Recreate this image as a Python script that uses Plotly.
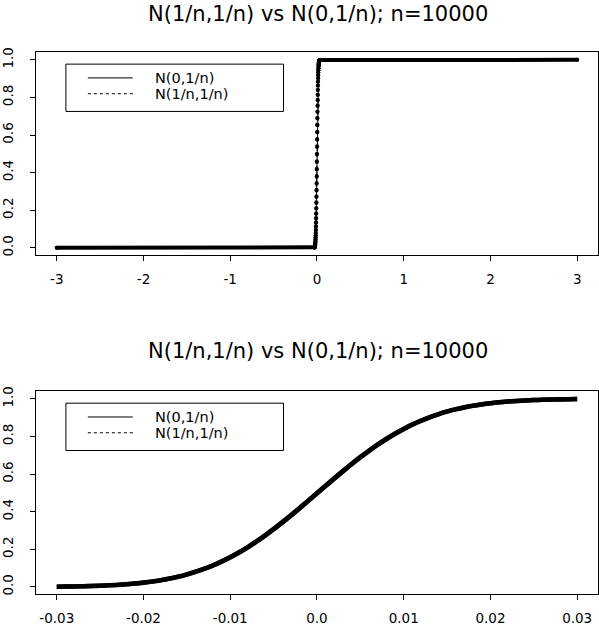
import plotly.graph_objects as go

# ---------------- data ----------------
x_grid = [-0.030, -0.029, -0.028, -0.027, -0.026, -0.025, -0.024, -0.023, -0.022, -0.021,
          -0.020, -0.019, -0.018, -0.017, -0.016, -0.015, -0.014, -0.013, -0.012, -0.011,
          -0.010, -0.009, -0.008, -0.007, -0.006, -0.005, -0.004, -0.003, -0.002, -0.001,
          0.000, 0.001, 0.002, 0.003, 0.004, 0.005, 0.006, 0.007, 0.008, 0.009,
          0.010, 0.011, 0.012, 0.013, 0.014, 0.015, 0.016, 0.017, 0.018, 0.019,
          0.020, 0.021, 0.022, 0.023, 0.024, 0.025, 0.026, 0.027, 0.028, 0.029, 0.030]

# N(0,1/n) cumulative probabilities
cdf_n0 = [0.0013, 0.0019, 0.0026, 0.0035, 0.0047, 0.0062, 0.0082, 0.0107, 0.0139, 0.0179,
          0.0228, 0.0287, 0.0359, 0.0446, 0.0548, 0.0668, 0.0808, 0.0968, 0.1151, 0.1357,
          0.1587, 0.1841, 0.2119, 0.2420, 0.2743, 0.3085, 0.3446, 0.3821, 0.4207, 0.4602,
          0.5000, 0.5398, 0.5793, 0.6179, 0.6554, 0.6915, 0.7257, 0.7580, 0.7881, 0.8159,
          0.8413, 0.8643, 0.8849, 0.9032, 0.9192, 0.9332, 0.9452, 0.9554, 0.9641, 0.9713,
          0.9772, 0.9821, 0.9861, 0.9893, 0.9918, 0.9938, 0.9953, 0.9965, 0.9974, 0.9981, 0.9987]

# N(1/n,1/n) cumulative probabilities
cdf_n1 = [0.0013, 0.0018, 0.0025, 0.0034, 0.0045, 0.0060, 0.0080, 0.0104, 0.0135, 0.0175,
          0.0223, 0.0280, 0.0351, 0.0437, 0.0537, 0.0655, 0.0793, 0.0951, 0.1132, 0.1335,
          0.1563, 0.1814, 0.2090, 0.2389, 0.2710, 0.3050, 0.3409, 0.3783, 0.4168, 0.4562,
          0.4960, 0.5358, 0.5754, 0.6141, 0.6517, 0.6880, 0.7224, 0.7549, 0.7852, 0.8132,
          0.8389, 0.8621, 0.8830, 0.9015, 0.9177, 0.9319, 0.9441, 0.9545, 0.9633, 0.9706,
          0.9767, 0.9817, 0.9857, 0.9890, 0.9916, 0.9936, 0.9952, 0.9964, 0.9973, 0.9980, 0.9987]

# wide view: flat ends of the curves
wide_x_ends = [-3.0, 3.0]
wide_y_ends = [0.0, 1.0]

title_text = "N(1/n,1/n) vs N(0,1/n); n=10000"
legend_labels = ["N(0,1/n)", "N(1/n,1/n)"]

top_xticks = [-3, -2, -1, 0, 1, 2, 3]
top_xticktext = ["-3", "-2", "-1", "0", "1", "2", "3"]
bot_xticks = [-0.03, -0.02, -0.01, 0.0, 0.01, 0.02, 0.03]
bot_xticktext = ["-0.03", "-0.02", "-0.01", "0.0", "0.01", "0.02", "0.03"]
yticks = [0.0, 0.2, 0.4, 0.6, 0.8, 1.0]
yticktext = ["0.0", "0.2", "0.4", "0.6", "0.8", "1.0"]

# ---------------- figure ----------------
W, H = 599, 626
FONT = "DejaVu Sans"


def px(xp):
    return xp / W


def py(yp):
    return 1 - yp / H


top_x = [wide_x_ends[0]] + x_grid + [wide_x_ends[1]]
top_y0 = [wide_y_ends[0]] + cdf_n0 + [wide_y_ends[1]]
top_y1 = [wide_y_ends[0]] + cdf_n1 + [wide_y_ends[1]]

# thick flat parts (where the curve sits at 0 or 1)
flat_x, flat_y = [], []
left = [(x, y) for x, y in zip(top_x, top_y0) if y < 0.003 and x < 0]
right = [(x, y) for x, y in zip(top_x, top_y0) if y > 0.997 and x > 0]
for seg in (left, right):
    flat_x += [p[0] for p in seg] + [None]
    flat_y += [p[1] for p in seg] + [None]

fig = go.Figure()

# ----- top panel -----
fig.add_trace(go.Scatter(x=flat_x, y=flat_y, mode="lines", xaxis="x", yaxis="y",
                         line=dict(color="black", width=4), showlegend=False,
                         hoverinfo="skip"))
fig.add_trace(go.Scatter(x=top_x, y=top_y0, mode="lines+markers", xaxis="x", yaxis="y",
                         line=dict(color="black", width=1),
                         marker=dict(color="black", size=4), showlegend=False))
fig.add_trace(go.Scatter(x=top_x, y=top_y1, mode="lines+markers", xaxis="x", yaxis="y",
                         line=dict(color="black", width=1, dash="dot"),
                         marker=dict(color="black", size=4), showlegend=False))

# ----- bottom panel -----
fig.add_trace(go.Scatter(x=x_grid, y=cdf_n0, mode="lines", xaxis="x2", yaxis="y2",
                         line=dict(color="black", width=4.5, shape="spline"), showlegend=False))
fig.add_trace(go.Scatter(x=x_grid, y=cdf_n1, mode="lines", xaxis="x2", yaxis="y2",
                         line=dict(color="black", width=4.5, shape="spline"), showlegend=False))

common_axis = dict(showline=True, linecolor="black", linewidth=1, mirror=True,
                   ticks="outside", ticklen=5, tickwidth=1, tickcolor="black",
                   showgrid=False, zeroline=False,
                   tickfont=dict(family=FONT, size=13.5, color="black"))

xdom = [px(35), px(598)]
fig.update_layout(
    width=W, height=H,
    margin=dict(l=0, r=0, t=0, b=0),
    paper_bgcolor="white", plot_bgcolor="white",
    showlegend=False,
    xaxis=dict(domain=xdom, range=[-3.24, 3.24], tickmode="array",
               tickvals=top_xticks, ticktext=top_xticktext, anchor="y",
               ticklabelstandoff=6, **common_axis),
    yaxis=dict(domain=[py(254), py(48)], range=[-0.04, 1.04], tickmode="array",
               tickvals=yticks, ticktext=yticktext, tickangle=-90, anchor="x",
               ticklabelstandoff=12, **common_axis),
    xaxis2=dict(domain=xdom, range=[-0.0324, 0.0324], tickmode="array",
                tickvals=bot_xticks, ticktext=bot_xticktext, anchor="y2",
                ticklabelstandoff=6, **common_axis),
    yaxis2=dict(domain=[py(598), py(392)], range=[-0.04, 1.04], tickmode="array",
                tickvals=yticks, ticktext=yticktext, tickangle=-90, anchor="x2",
                ticklabelstandoff=12, **common_axis),
)

shapes = []
annotations = []
for frame_top, title_y in ((48, 9.5), (392, 351.5)):
    # title
    annotations.append(dict(text=title_text, x=px(318), y=py(title_y), xref="paper",
                            yref="paper", xanchor="center", yanchor="middle",
                            showarrow=False, font=dict(family=FONT, size=21, color="black")))
    # legend box
    bt = frame_top + 12
    shapes.append(dict(type="rect", xref="paper", yref="paper", x0=px(65), x1=px(283),
                       y0=py(bt + 48), y1=py(bt), line=dict(color="black", width=1),
                       fillcolor="white", layer="above"))
    for i, lab in enumerate(legend_labels):
        ly = frame_top + 26 + 16 * i
        shapes.append(dict(type="line", xref="paper", yref="paper", x0=px(87), x1=px(132),
                           y0=py(ly), y1=py(ly),
                           line=dict(color="black", width=1, dash="solid" if i == 0 else "dot"),
                           layer="above"))
        annotations.append(dict(text=lab, x=px(152), y=py(ly), xref="paper", yref="paper",
                                xanchor="left", yanchor="middle", showarrow=False,
                                font=dict(family=FONT, size=14.5, color="black")))

fig.update_layout(shapes=shapes, annotations=annotations)
fig.write_html("out.html", config={"displayModeBar": False},
               post_script="document.body.style.margin='0';document.body.style.padding='0';")
